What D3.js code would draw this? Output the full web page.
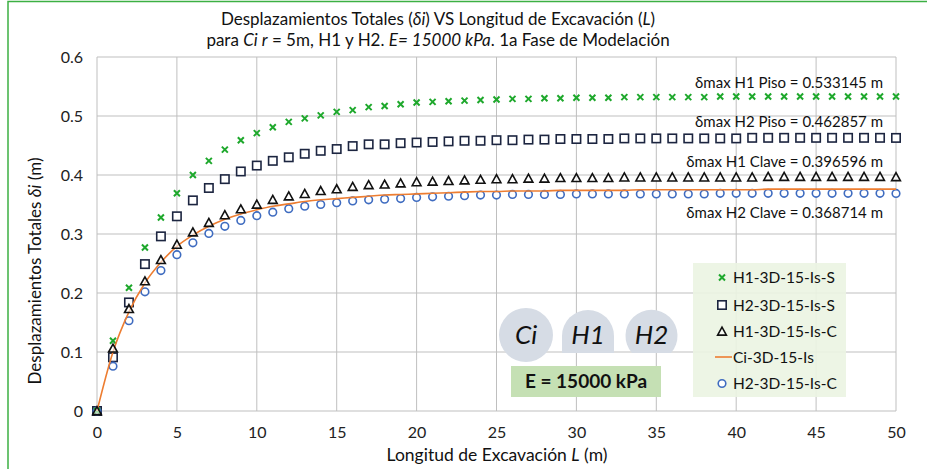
<!DOCTYPE html>
<html>
<head>
<meta charset="utf-8">
<script src="https://cdn.jsdelivr.net/npm/d3@7"></script>
<style>
  body { margin: 0; background: #fff; }
  svg { display: block; font-family: Lato, "Open Sans", sans-serif; }
</style>
</head>
<body>
<div id="chart"></div>
<script>
// ============================================
// DATA
// ============================================

const lengths = d3.range(0, 51); // L (m), 0..50

const h1Piso = [0, 0.119, 0.209, 0.277, 0.328, 0.369, 0.400, 0.424, 0.443, 0.459,
  0.471, 0.481, 0.490, 0.496, 0.501, 0.507, 0.510, 0.515, 0.517, 0.520,
  0.523, 0.524, 0.525, 0.526, 0.527, 0.528, 0.529, 0.529, 0.530, 0.530,
  0.531, 0.531, 0.531, 0.532, 0.532, 0.532, 0.532, 0.532, 0.532, 0.533,
  0.533, 0.533, 0.533, 0.533, 0.533, 0.533, 0.533, 0.533, 0.533, 0.533, 0.533145];

const h2Piso = [0, 0.091, 0.184, 0.249, 0.296, 0.330, 0.357, 0.378, 0.393, 0.406,
  0.416, 0.424, 0.430, 0.436, 0.441, 0.444, 0.449, 0.452, 0.452, 0.454,
  0.455, 0.456, 0.457, 0.458, 0.458, 0.459, 0.459, 0.460, 0.460, 0.461,
  0.461, 0.461, 0.461, 0.462, 0.462, 0.462, 0.462, 0.462, 0.462, 0.462,
  0.462, 0.463, 0.463, 0.463, 0.463, 0.463, 0.463, 0.463, 0.463, 0.463, 0.462857];

const h1Clave = [0, 0.106, 0.173, 0.220, 0.256, 0.282, 0.303, 0.319, 0.332, 0.342,
  0.350, 0.358, 0.364, 0.368, 0.373, 0.376, 0.380, 0.383, 0.384, 0.386,
  0.388, 0.389, 0.390, 0.391, 0.392, 0.393, 0.393, 0.394, 0.394, 0.395,
  0.395, 0.395, 0.395, 0.396, 0.396, 0.396, 0.396, 0.396, 0.396, 0.396,
  0.396, 0.396, 0.397, 0.397, 0.397, 0.397, 0.397, 0.397, 0.397, 0.397, 0.396596];

const h2Clave = [0, 0.076, 0.153, 0.202, 0.238, 0.265, 0.285, 0.301, 0.313, 0.323,
  0.331, 0.337, 0.343, 0.347, 0.350, 0.353, 0.356, 0.358, 0.359, 0.360,
  0.362, 0.363, 0.364, 0.365, 0.366, 0.366, 0.367, 0.367, 0.367, 0.367,
  0.368, 0.368, 0.368, 0.368, 0.368, 0.368, 0.368, 0.368, 0.368, 0.369,
  0.369, 0.369, 0.369, 0.369, 0.369, 0.369, 0.369, 0.369, 0.369, 0.369, 0.368714];

const ciLine = [0, 0.100, 0.168, 0.217, 0.252, 0.279, 0.298, 0.313, 0.325, 0.334,
  0.341, 0.347, 0.351, 0.355, 0.358, 0.360, 0.362, 0.364, 0.366, 0.367,
  0.368, 0.369, 0.370, 0.371, 0.372, 0.372, 0.373, 0.373, 0.373, 0.374,
  0.374, 0.374, 0.374, 0.374, 0.375, 0.375, 0.375, 0.375, 0.375, 0.375,
  0.375, 0.375, 0.376, 0.376, 0.376, 0.376, 0.376, 0.376, 0.376, 0.376, 0.376];

const xTicks = [0, 5, 10, 15, 20, 25, 30, 35, 40, 45, 50];
const yTicks = [0, 0.1, 0.2, 0.3, 0.4, 0.5, 0.6];

const legendNames = ["H1-3D-15-Is-S", "H2-3D-15-Is-S", "H1-3D-15-Is-C", "Ci-3D-15-Is", "H2-3D-15-Is-C"];
const maxLabels = [
  "δmax H1 Piso = 0.533145 m",
  "δmax H2 Piso = 0.462857 m",
  "δmax H1 Clave = 0.396596 m",
  "δmax H2 Clave = 0.368714 m",
];

// ============================================
// LAYOUT
// ============================================

const WIDTH = 927, HEIGHT = 469;
const plot = { left: 97, right: 896, top: 57, bottom: 411 };

const COLORS = {
  green: "#1ea82c",
  square: "#1c2540",
  triangle: "#111111",
  circle: "#3f6cc0",
  line: "#ed7d31",
  grid: "#bfbfbf",
  shape: "#d6dce5",
  eBox: "#c5e0b4",
  legendBg: "#ebf4e2",
  frame: "#3cb043",
};

const x = d3.scaleLinear().domain([0, 50]).range([plot.left, plot.right]);
const y = d3.scaleLinear().domain([0, 0.6]).range([plot.bottom, plot.top]);

const svg = d3.select("#chart").append("svg")
  .attr("width", WIDTH).attr("height", HEIGHT);

// outer green frame (top + left visible)
svg.append("path")
  .attr("d", `M8,${HEIGHT} L8,1.5 L${WIDTH},1.5`)
  .attr("fill", "none").attr("stroke", COLORS.frame).attr("stroke-width", 1.5);

// gridlines
svg.append("g").selectAll("line").data(xTicks).join("line")
  .attr("x1", d => x(d)).attr("x2", d => x(d))
  .attr("y1", plot.top).attr("y2", plot.bottom)
  .attr("stroke", COLORS.grid).attr("stroke-width", 1);
svg.append("g").selectAll("line").data(yTicks).join("line")
  .attr("x1", plot.left).attr("x2", plot.right)
  .attr("y1", d => y(d)).attr("y2", d => y(d))
  .attr("stroke", COLORS.grid).attr("stroke-width", 1);

// axis labels via d3 axes
const xAxis = svg.append("g").attr("transform", `translate(0,${plot.bottom})`)
  .call(d3.axisBottom(x).tickValues(xTicks).tickSize(0).tickPadding(16).tickFormat(d3.format("d")));
const yAxis = svg.append("g").attr("transform", `translate(${plot.left},0)`)
  .call(d3.axisLeft(y).tickValues(yTicks).tickSize(0).tickPadding(14).tickFormat(d => d === 0 ? "0" : d3.format(".1f")(d)));
[xAxis, yAxis].forEach(a => {
  a.select(".domain").remove();
  a.selectAll("text").attr("font-family", "Lato, sans-serif").attr("font-size", 16).attr("fill", "#222");
});

// ============================================
// ANNOTATION SHAPES (Ci, H1, H2, E box)
// ============================================

const shapes = svg.append("g");
shapes.append("circle").attr("cx", 526).attr("cy", 335).attr("r", 27).attr("fill", COLORS.shape);
// H1: semicircle top, vertical walls
shapes.append("path")
  .attr("d", "M562,353 L562,336 A26,26 0 0 1 614,336 L614,353 Z")
  .attr("fill", COLORS.shape);
// H2: circle cut flat at the bottom
shapes.append("path")
  .attr("d", "M632,353 A26,26 0 1 1 671,353 Z")
  .attr("fill", COLORS.shape);
[["Ci", 526], ["H1", 588], ["H2", 651.5]].forEach(([t, cx]) => {
  shapes.append("text").attr("x", cx).attr("y", 344)
    .attr("text-anchor", "middle").attr("font-size", 26).attr("font-style", "italic")
    .attr("font-family", "Lato, sans-serif").attr("fill", "#111").text(t);
});
shapes.append("rect").attr("x", 511).attr("y", 366).attr("width", 150).attr("height", 31)
  .attr("fill", COLORS.eBox);
shapes.append("text").attr("x", 586).attr("y", 388).attr("text-anchor", "middle")
  .attr("font-size", 19).attr("font-weight", "bold").attr("fill", "#111")
  .text("E = 15000 kPa");

// ============================================
// SERIES
// ============================================

const series = lengths.map((L, i) => ({ L, h1Piso: h1Piso[i], h2Piso: h2Piso[i], h1Clave: h1Clave[i], h2Clave: h2Clave[i], ci: ciLine[i] }));

const crossPath = s => `M${-s},${-s}L${s},${s}M${-s},${s}L${s},${-s}`;

function drawCross(g, cx, cy) {
  g.append("path").attr("transform", `translate(${cx},${cy})`).attr("d", crossPath(3))
    .attr("stroke", COLORS.green).attr("stroke-width", 2).attr("fill", "none");
}
function drawSquare(g, cx, cy) {
  g.append("rect").attr("x", cx - 4.2).attr("y", cy - 4.2).attr("width", 8.4).attr("height", 8.4)
    .attr("fill", "#fff").attr("stroke", COLORS.square).attr("stroke-width", 1.6);
}
function drawTriangle(g, cx, cy) {
  g.append("path").attr("transform", `translate(${cx},${cy})`).attr("d", "M0,-4.4L4.4,3.6L-4.4,3.6Z")
    .attr("fill", "#fff").attr("fill-opacity", 0.6).attr("stroke", COLORS.triangle).attr("stroke-width", 1.6);
}
function drawCircle(g, cx, cy) {
  g.append("circle").attr("cx", cx).attr("cy", cy).attr("r", 3.8)
    .attr("fill", "#fff").attr("stroke", COLORS.circle).attr("stroke-width", 1.6);
}

const marks = svg.append("g");
series.forEach(d => drawSquare(marks, x(d.L), y(d.h2Piso)));
series.forEach(d => drawCircle(marks, x(d.L), y(d.h2Clave)));
series.forEach(d => drawCross(marks, x(d.L), y(d.h1Piso)));

svg.append("path").datum(series)
  .attr("d", d3.line().x(d => x(d.L)).y(d => y(d.ci)).curve(d3.curveMonotoneX))
  .attr("fill", "none").attr("stroke", COLORS.line).attr("stroke-width", 1.6);

const tri = svg.append("g");
series.forEach(d => drawTriangle(tri, x(d.L), y(d.h1Clave)));

// max annotations
const maxY = [88, 127, 167, 218];
svg.append("g").selectAll("text").data(maxLabels).join("text")
  .attr("x", 883).attr("y", (d, i) => maxY[i]).attr("text-anchor", "end")
  .attr("font-size", 15).attr("fill", "#111").text(d => d);

// ============================================
// LEGEND
// ============================================

const legend = svg.append("g");
legend.append("rect").attr("x", 693).attr("y", 263).attr("width", 153).attr("height", 134)
  .attr("fill", COLORS.legendBg).attr("opacity", 0.9);
const rowY = [277.5, 305, 331.5, 357, 383.5];
const drawers = [drawCross, drawSquare, drawTriangle, null, drawCircle];
legendNames.forEach((name, i) => {
  if (drawers[i]) {
    drawers[i](legend, 722, rowY[i]);
  } else {
    legend.append("line").attr("x1", 715).attr("x2", 732).attr("y1", rowY[i]).attr("y2", rowY[i])
      .attr("stroke", COLORS.line).attr("stroke-width", 1.6);
  }
  legend.append("text").attr("x", 733).attr("y", rowY[i] + 5.5)
    .attr("font-size", 15.5).attr("fill", "#111").text(name);
});

// ============================================
// TITLES
// ============================================

const title = svg.append("text").attr("x", 438).attr("text-anchor", "middle")
  .attr("font-size", 17).attr("fill", "#111");
title.append("tspan").attr("x", 438).attr("y", 25)
  .html('Desplazamientos Totales (<tspan font-style="italic">δi</tspan>) VS Longitud de Excavación (<tspan font-style="italic">L</tspan>)');
title.append("tspan").attr("x", 438).attr("y", 46)
  .html('para <tspan font-style="italic">Ci r</tspan> = 5m, H1 y H2. <tspan font-style="italic">E= 15000 kPa</tspan>. 1a Fase de Modelación');

svg.append("text").attr("x", 497).attr("y", 461).attr("text-anchor", "middle")
  .attr("font-size", 17.5).attr("fill", "#111")
  .html('Longitud de Excavación <tspan font-style="italic">L</tspan> (m)');

svg.append("text").attr("transform", "translate(41,271) rotate(-90)").attr("text-anchor", "middle")
  .attr("font-size", 17).attr("fill", "#111")
  .html('Desplazamientos Totales <tspan font-style="italic">δi</tspan> (m)');
</script>
</body>
</html>
